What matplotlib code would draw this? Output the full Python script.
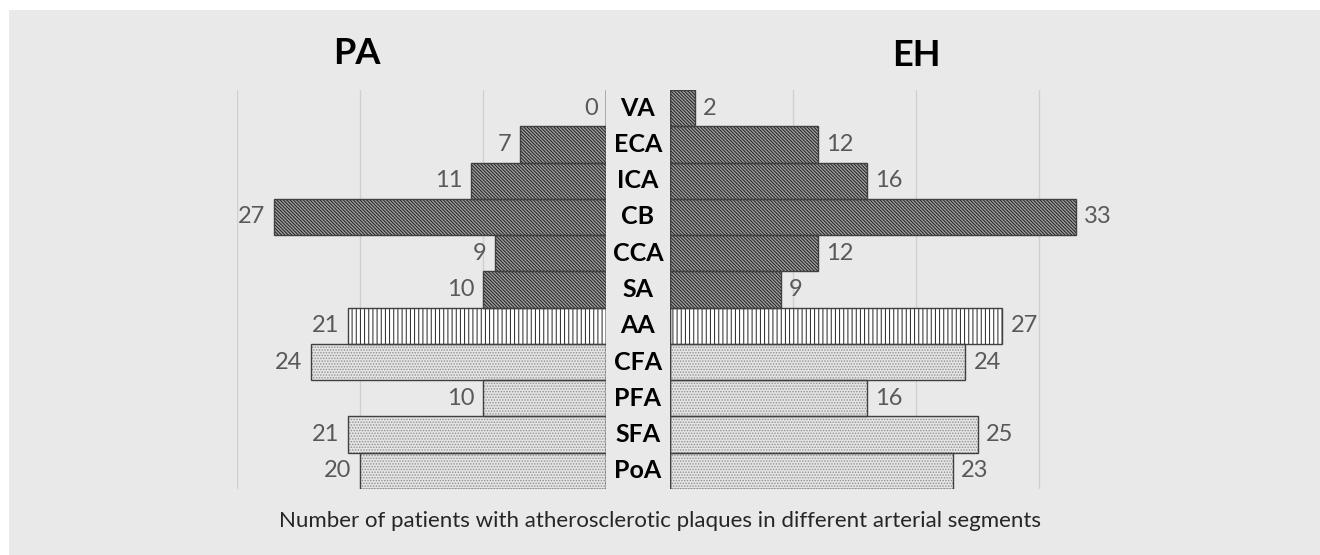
import matplotlib
matplotlib.use("Agg")
import matplotlib.pyplot as plt
from matplotlib.patches import Rectangle

categories = ["VA", "ECA", "ICA", "CB", "CCA", "SA", "AA", "CFA", "PFA", "SFA", "PoA"]
pa_values = [0, 7, 11, 27, 9, 10, 21, 24, 10, 21, 20]
eh_values = [2, 12, 16, 33, 12, 9, 27, 24, 16, 25, 23]
groups = ["dark", "dark", "dark", "dark", "dark", "dark", "lines", "dots", "dots", "dots", "dots"]
left_title = "PA"
right_title = "EH"
caption = "Number of patients with atherosclerotic plaques in different arterial segments"
grid_ticks = [10, 20, 30]

styles = {
    "dark": dict(face="#a0a0a0", hatch="\\" * 10, hcolor="#1e1e1e"),
    "lines": dict(face="#ffffff", hatch="||||", hcolor="#222222"),
    "dots": dict(face="#e4e4e4", hatch="......", hcolor="#909090"),
}

plt.rcParams["font.family"] = ["Lato", "DejaVu Sans"]
plt.rcParams["hatch.linewidth"] = 0.7

W, H = 1320, 555
fig = plt.figure(figsize=(W / 100, H / 100), dpi=100, facecolor="white")
fig.patches.append(Rectangle((9 / W, 0), 1 - 9 / W, 1 - 10 / H, transform=fig.transFigure,
                             facecolor="#e9e9e9", edgecolor="none", zorder=-10))

bottom = 1 - 489 / H
top = 1 - 90 / H
axL = fig.add_axes([237 / W, bottom, 369 / W, top - bottom])
axR = fig.add_axes([670 / W, bottom, 430.5 / W, top - bottom])

n = len(categories)

for ax, vals, xmax, side in [(axL, pa_values, 30, "L"), (axR, eh_values, 35, "R")]:
    ax.set_facecolor("none")
    for sp in ax.spines.values():
        sp.set_visible(False)
    ax.set_ylim(n - 0.5, -0.5)
    if side == "L":
        ax.set_xlim(xmax, 0)
    else:
        ax.set_xlim(0, xmax)
    ax.set_xticks([])
    ax.set_yticks([])
    for g in grid_ticks:
        ax.axvline(g, color="#d0d0d0", lw=1.0, zorder=0)
    ax.axvline(0, color="#404040", lw=1.0, zorder=3)
    for i, (v, grp) in enumerate(zip(vals, groups)):
        st = styles[grp]
        ax.barh(i, v, height=1.0, color=st["face"], hatch=st["hatch"],
                edgecolor=st["hcolor"], linewidth=0, zorder=1)
        ax.barh(i, v, height=1.0, fill=False, edgecolor="#404040", linewidth=1.0, zorder=2)
        ax.annotate(str(v), xy=(v, i), xytext=(-6 if side == "L" else 6, 0),
                    textcoords="offset points", ha="right" if side == "L" else "left",
                    va="center", fontsize=17, color="#595959")

for i, c in enumerate(categories):
    yf = top - (i + 0.5) * (top - bottom) / n
    fig.text(638 / W, yf, c, ha="center", va="center", fontsize=18, fontweight="bold", color="black")

fig.text(357 / W, 1 - 54 / H, left_title, ha="center", va="center", fontsize=26, fontweight="bold")
fig.text(916 / W, 1 - 56 / H, right_title, ha="center", va="center", fontsize=26, fontweight="bold")
fig.text(660 / W, 1 - 521 / H, caption, ha="center", va="center", fontsize=16, color="#262626")

fig.savefig("out.png", dpi=100, facecolor="white")
